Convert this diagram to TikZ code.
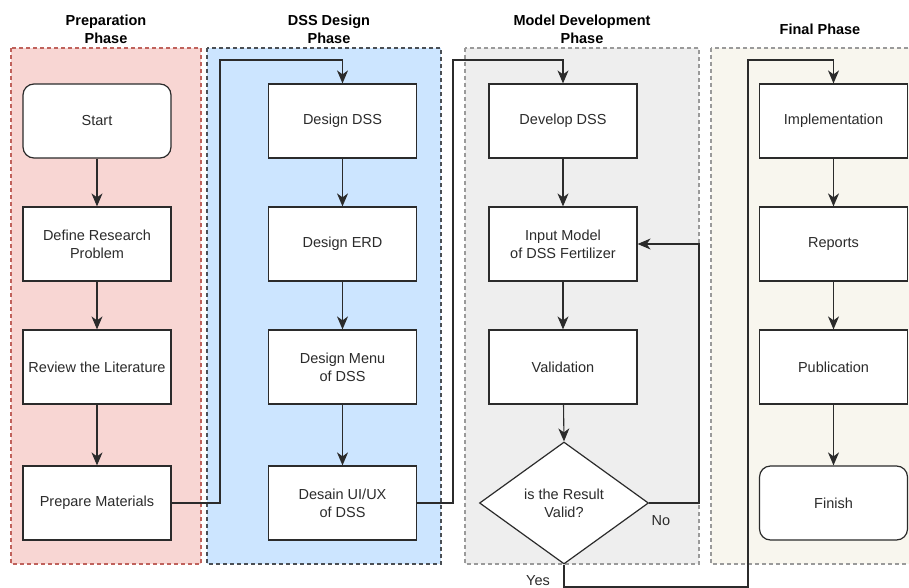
\documentclass[tikz,border=0pt]{standalone}
\usepackage{fontspec}
\setmainfont{Liberation Sans}
\usetikzlibrary{arrows.meta,shapes.geometric}
\definecolor{prepfill}{HTML}{F8D6D3}
\definecolor{prepline}{HTML}{C0625C}
\definecolor{dssfill}{HTML}{CCE5FF}
\definecolor{dssline}{HTML}{4A4F55}
\definecolor{modfill}{HTML}{EEEEEE}
\definecolor{modline}{HTML}{9A9A9A}
\definecolor{finfill}{HTML}{F8F6EE}
\definecolor{finline}{HTML}{9A9A9A}
\definecolor{linec}{HTML}{2B2B2B}
\begin{document}
\begin{tikzpicture}[x=1pt,y=-1pt,
  txt/.style={font=\fontsize{14.5}{18}\selectfont, text=linec, align=center},
  head/.style={font=\bfseries\fontsize{14.5}{18}\selectfont, text=black, align=center},
  box/.style={txt, draw=linec, fill=white, line width=1.2pt, minimum width=148pt, minimum height=74pt, inner sep=0pt},
  term/.style={box, rounded corners=11pt},
  dec/.style={txt, diamond, draw=linec, fill=white, line width=1.2pt, minimum width=169pt, minimum height=122pt, inner sep=0pt},
  phasebox/.style={line width=1.2pt, dash pattern=on 4pt off 3pt},
  conn/.style={line width=1.1pt, draw=linec}
]
\useasboundingbox (0,0) rectangle (909,588);
% phase backgrounds
\path[phasebox, fill=prepfill, draw=prepline] (11,48) rectangle (201,564);
\path[phasebox, fill=dssfill, draw=dssline] (207,48) rectangle (441,564);
\path[phasebox, fill=modfill, draw=modline] (465,48) rectangle (699,564);
\path[phasebox, fill=finfill, draw=finline] (711,48) rectangle (920,564);
% headers
\node[head] (h1) at (106,29) {Preparation\\Phase};
\node[head] (h2) at (329,29) {DSS Design\\Phase};
\node[head] (h3) at (582,29) {Model Development\\Phase};
\node[head] (h4) at (820,29) {Final Phase};
% column 1
\node[term] (start) at (97,121) {Start};
\node[box] (define) at (97,244) {Define Research\\Problem};
\node[box] (review) at (97,367) {Review the Literature};
\node[box] (prep) at (97,503) {Prepare Materials};
% column 2
\node[box] (dss) at (342.5,121) {Design DSS};
\node[box] (erd) at (342.5,244) {Design ERD};
\node[box] (menu) at (342.5,367) {Design Menu\\of DSS};
\node[box] (uiux) at (342.5,503) {Desain UI/UX\\of DSS};
% column 3
\node[box] (dev) at (563,121) {Develop DSS};
\node[box] (inp) at (563,244) {Input Model\\of DSS Fertilizer};
\node[box] (val) at (563,367) {Validation};
\node[dec] (dec) at (564,503) {is the Result\\Valid?};
% column 4
\node[box] (impl) at (833.5,121) {Implementation};
\node[box] (rep) at (833.5,244) {Reports};
\node[box] (pub) at (833.5,367) {Publication};
\node[term] (fin) at (833.5,503) {Finish};
% helper coordinates
\coordinate (c1) at (220,60);
\coordinate (c2) at (453,60);
\coordinate (yb) at (748,587);
\coordinate (yt) at (748,60);
\coordinate (nc) at (699,244);
% connectors
\begin{scope}[>={Stealth[length=13pt,width=11pt,inset=4pt]}]
\draw[conn,->] (start) -- (define);
\draw[conn,->] (define) -- (review);
\draw[conn,->] (review) -- (prep);
\draw[conn,->] (prep.east) -| (c1) -| (dss.north);
\draw[conn,->] (dss) -- (erd);
\draw[conn,->] (erd) -- (menu);
\draw[conn,->] (menu) -- (uiux);
\draw[conn,->] (uiux.east) -| (c2) -| (dev.north);
\draw[conn,->] (dev) -- (inp);
\draw[conn,->] (inp) -- (val);
\draw[conn,->] (val) -- (dec.north);
\draw[conn,->] (dec.east) -| (nc) -- (inp.east);
\draw[conn,->] (dec.south) |- (yb) -- (yt) -| (impl.north);
\draw[conn,->] (impl) -- (rep);
\draw[conn,->] (rep) -- (pub);
\draw[conn,->] (pub) -- (fin);
\end{scope}
% labels
\node[txt] (no) at (661,521) {No};
\node[txt] (yes) at (538,581) {Yes};
\end{tikzpicture}
\end{document}
